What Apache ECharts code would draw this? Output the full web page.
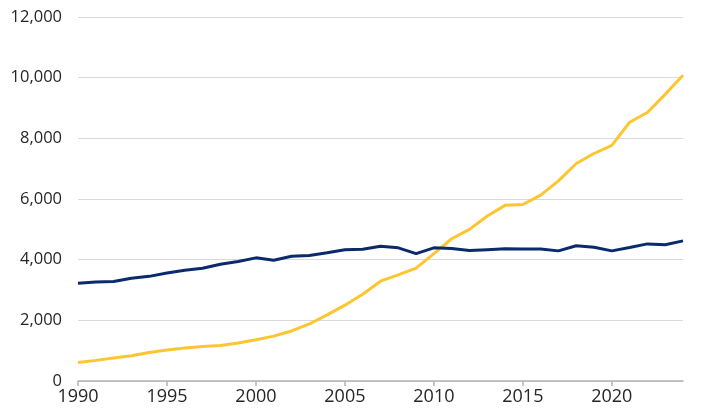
<!DOCTYPE html>
<html>
<head>
<meta charset="utf-8">
<script src="https://cdn.jsdelivr.net/npm/echarts@6/dist/echarts.min.js"></script>
<style>
html,body{margin:0;padding:0;background:#fff;}
#chart{width:718px;height:417px;}
</style>
</head>
<body>
<div id="chart"></div>
<script>
const years = [1990,1991,1992,1993,1994,1995,1996,1997,1998,1999,2000,2001,2002,2003,2004,2005,2006,2007,2008,2009,2010,2011,2012,2013,2014,2015,2016,2017,2018,2019,2020,2021,2022,2023,2024];
const navySeries = [3220,3260,3280,3390,3450,3560,3650,3715,3850,3940,4060,3980,4110,4140,4230,4330,4340,4440,4390,4200,4390,4370,4300,4330,4360,4350,4350,4290,4460,4410,4290,4400,4520,4490,4620];
const yellowSeries = [610,680,760,830,940,1020,1090,1140,1170,1250,1360,1480,1650,1880,2180,2500,2860,3290,3500,3720,4200,4690,5000,5440,5790,5820,6130,6600,7170,7500,7770,8530,8850,9450,10080];
const yTicks = {min:0, max:12000, interval:2000};

const chart = echarts.init(document.getElementById('chart'));
const fmt = v => String(v).replace(/\B(?=(\d{3})+(?!\d))/g, ',');
chart.setOption({
  animation:false,
  grid:{left:78,right:35,top:17,bottom:36,containLabel:false},
  xAxis:{
    type:'value', min:1990, max:2024, interval:5,
    axisLine:{show:true,lineStyle:{color:'#b3b3b3',width:1.5}},
    axisTick:{show:true,length:5,lineStyle:{color:'#b3b3b3',width:1.5}},
    splitLine:{show:false},
    axisLabel:{formatter:v=>String(v),color:'#262626',fontSize:18,fontFamily:'Open Sans',margin:7,showMaxLabel:false}
  },
  yAxis:{
    type:'value', min:yTicks.min, max:yTicks.max, interval:yTicks.interval,
    axisLine:{show:false}, axisTick:{show:false},
    splitLine:{lineStyle:{color:'#d9d9d9',width:1}},
    axisLabel:{formatter:fmt,color:'#262626',fontSize:16.5,fontFamily:'Open Sans',margin:16}
  },
  series:[
    {type:'line',data:years.map((y,i)=>[y,yellowSeries[i]]),showSymbol:false,lineStyle:{color:'#fdc530',width:3},itemStyle:{color:'#fdc530'}},
    {type:'line',data:years.map((y,i)=>[y,navySeries[i]]),showSymbol:false,lineStyle:{color:'#0a2a6b',width:3},itemStyle:{color:'#0a2a6b'}}
  ]
});
</script>
</body>
</html>
